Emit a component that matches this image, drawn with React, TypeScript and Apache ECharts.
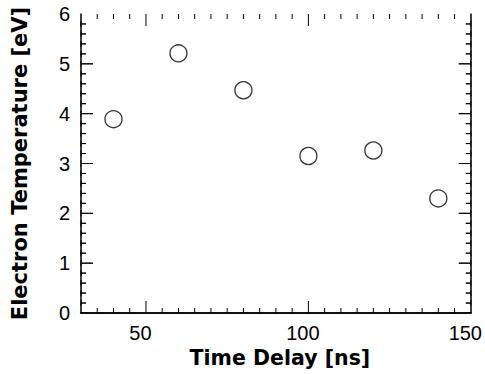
import React, { useEffect, useRef } from "react";
import * as echarts from "echarts";

const timeDelay = [40, 60, 80, 100, 120, 140];
const electronTemp = [3.89, 5.21, 4.47, 3.15, 3.26, 2.3];
const xMajorTicks = [50, 100, 150];
const xTitle = "Time Delay [ns]";
const yTitle = "Electron Temperature [eV]";

const X_MIN = 30;
const X_MAX = 150;
const X_MINOR_STEP = 5;
const Y_MIN = 0;
const Y_MAX = 6;
const Y_MINOR_STEP = 0.2;

export default function App() {
  const ref = useRef<HTMLDivElement>(null);

  useEffect(() => {
    if (!ref.current) return;
    const chart = echarts.init(ref.current, undefined, { renderer: "svg" });

    const xTicks: number[][] = [];
    for (let i = 1; X_MIN + i * X_MINOR_STEP < X_MAX - 1e-9; i++) {
      const v = X_MIN + i * X_MINOR_STEP;
      xTicks.push([v, xMajorTicks.includes(v) ? 1 : 0]);
    }
    const yTicks: number[][] = [];
    const yCount = Math.round((Y_MAX - Y_MIN) / Y_MINOR_STEP);
    for (let i = 1; i < yCount; i++) {
      const v = +(Y_MIN + i * Y_MINOR_STEP).toFixed(4);
      yTicks.push([v, i % 5 === 0 ? 1 : 0]);
    }
    const MAJOR = 12;
    const MINOR = 5;
    const tickStyle = { stroke: "#000", lineWidth: 1 };

    const labelFont = {
      color: "#000",
      fontFamily: "Liberation Sans",
      fontSize: 20,
    };
    const titleFont = (size: number) => ({
      color: "#000",
      fontFamily: "DejaVu Sans",
      fontWeight: "bold" as const,
      fontSize: size,
    });
    const xAxisDef = (position: "top" | "bottom", withLabels: boolean, name?: string) => ({
      type: "value",
      position,
      min: X_MIN,
      max: X_MAX,
      interval: X_MINOR_STEP,
      axisLine: { show: true, lineStyle: { color: "#000", width: 1.5 } },
      axisTick: { show: false },
      axisLabel: withLabels
        ? { show: true, margin: 10, customValues: xMajorTicks, padding: [0, 11, 0, 0], ...labelFont }
        : { show: false },
      splitLine: { show: false },
      name: name || "",
      nameLocation: "middle",
      nameGap: 27,
      nameTextStyle: { ...titleFont(20.5), padding: [0, 0, 0, 8] },
    });
    const yAxisDef = (position: "left" | "right", withLabels: boolean, name?: string) => ({
      type: "value",
      position,
      min: Y_MIN,
      max: Y_MAX,
      interval: 1,
      axisLine: { show: true, lineStyle: { color: "#000", width: 1.5 } },
      axisTick: { show: false },
      axisLabel: withLabels ? { show: true, margin: 11, ...labelFont } : { show: false },
      splitLine: { show: false },
      name: name || "",
      nameLocation: "middle",
      nameRotate: 90,
      nameGap: 51,
      nameTextStyle: titleFont(21),
    });

    // horizontal tick drawn as a polyline that starts and ends with short runs
    // along the axis line itself (hidden under it), so its box is not flat
    const hTick = (x0: number, y: number, dx: number) => ({
      type: "polyline",
      shape: {
        points: [
          [x0, y - 3],
          [x0, y],
          [x0 + dx, y],
          [x0, y],
          [x0, y + 3],
        ],
      },
      style: { stroke: "#000", lineWidth: 1, fill: null },
    });

    chart.setOption({
      animation: false,
      backgroundColor: "#fff",
      grid: { left: 81, right: 12, top: 14, bottom: 61, containLabel: false },
      xAxis: [xAxisDef("bottom", true, xTitle), xAxisDef("top", false)],
      yAxis: [yAxisDef("left", true, yTitle), yAxisDef("right", false)],
      series: [
        {
          type: "custom",
          xAxisIndex: 0,
          yAxisIndex: 0,
          silent: true,
          clip: false,
          data: xTicks,
          renderItem: (params: any, api: any) => {
            const v = api.value(0);
            const len = api.value(1) ? MAJOR : MINOR;
            const b = api.coord([v, Y_MIN]);
            const t = api.coord([v, Y_MAX]);
            return {
              type: "group",
              children: [
                { type: "line", shape: { x1: b[0], y1: b[1], x2: b[0], y2: b[1] - len }, style: tickStyle },
                { type: "line", shape: { x1: t[0], y1: t[1], x2: t[0], y2: t[1] + len }, style: tickStyle },
              ],
            };
          },
        },
        {
          type: "custom",
          xAxisIndex: 0,
          yAxisIndex: 0,
          silent: true,
          clip: false,
          data: yTicks,
          renderItem: (params: any, api: any) => {
            const v = api.value(0);
            const len = api.value(1) ? MAJOR : MINOR;
            const l = api.coord([X_MIN, v]);
            const r = api.coord([X_MAX, v]);
            return {
              type: "group",
              children: [hTick(l[0], l[1], len), hTick(r[0], r[1], -len)],
            };
          },
        },
        {
          type: "scatter",
          xAxisIndex: 0,
          yAxisIndex: 0,
          data: timeDelay.map((t, i) => [t, electronTemp[i]]),
          symbol: "circle",
          symbolSize: 17,
          itemStyle: { color: "#fff", borderColor: "#000", borderWidth: 1.3 },
          emphasis: { disabled: true },
        },
      ],
    });
    return () => chart.dispose();
  }, []);

  return (
    <div
      ref={ref}
      style={{ width: 485, height: 374, position: "absolute", left: 0, top: 0 }}
    />
  );
}
